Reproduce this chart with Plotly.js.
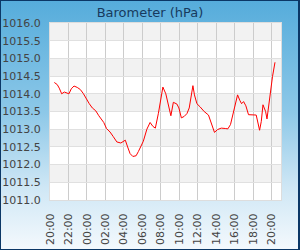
<!DOCTYPE html>
<html>
<head>
<meta charset="utf-8">
<script src="https://cdn.plot.ly/plotly-3.0.1.min.js"></script>
<style>
  html, body { margin:0; padding:0; }
  #wrap { position:relative; width:300px; height:250px;
          background: linear-gradient(to bottom, #55acdb 0%, #8dc8e8 45%, #cfe7f5 75%, #f4f9fd 100%); }
  #chart { position:absolute; left:0; top:0; width:300px; height:250px; }
  #frame { position:absolute; left:0; top:0; width:300px; height:250px; box-sizing:border-box;
           border:1px solid #0b3766; border-right-width:2px; pointer-events:none; }
</style>
</head>
<body>
<div id="wrap"><div id="chart"></div><div id="frame"></div></div>
<script>
const times = [
 "2024-01-01 20:28","2024-01-01 20:47","2024-01-01 21:00","2024-01-01 21:16","2024-01-01 21:33",
 "2024-01-01 21:49","2024-01-01 22:03","2024-01-01 22:18","2024-01-01 22:36","2024-01-01 22:57",
 "2024-01-01 23:17","2024-01-01 23:36","2024-01-01 23:54","2024-01-02 00:15","2024-01-02 00:35",
 "2024-01-02 00:57","2024-01-02 01:17","2024-01-02 01:33","2024-01-02 01:49","2024-01-02 02:07",
 "2024-01-02 02:30","2024-01-02 02:51","2024-01-02 03:14","2024-01-02 03:40","2024-01-02 03:56",
 "2024-01-02 04:09","2024-01-02 04:24","2024-01-02 04:40","2024-01-02 04:58","2024-01-02 05:19",
 "2024-01-02 05:34","2024-01-02 05:50","2024-01-02 06:06","2024-01-02 06:29","2024-01-02 06:50",
 "2024-01-02 07:08","2024-01-02 07:24","2024-01-02 07:44","2024-01-02 08:13","2024-01-02 08:32",
 "2024-01-02 08:49","2024-01-02 09:05","2024-01-02 09:21","2024-01-02 09:44","2024-01-02 09:57",
 "2024-01-02 10:13","2024-01-02 10:31","2024-01-02 10:49","2024-01-02 11:04","2024-01-02 11:28",
 "2024-01-02 11:38","2024-01-02 11:54","2024-01-02 12:15","2024-01-02 12:41","2024-01-02 13:09",
 "2024-01-02 13:25","2024-01-02 13:38","2024-01-02 13:48","2024-01-02 14:08","2024-01-02 14:32",
 "2024-01-02 14:58","2024-01-02 15:15","2024-01-02 15:32","2024-01-02 15:50","2024-01-02 16:03",
 "2024-01-02 16:18","2024-01-02 16:33","2024-01-02 16:44","2024-01-02 16:57","2024-01-02 17:12",
 "2024-01-02 17:29","2024-01-02 17:51","2024-01-02 18:19","2024-01-02 18:41","2024-01-02 18:52",
 "2024-01-02 19:03","2024-01-02 19:20","2024-01-02 19:29","2024-01-02 19:50","2024-01-02 20:05",
 "2024-01-02 20:21"
];
const pressure = [
 1014.32,1014.26,1014.16,1014.00,1014.05,
 1014.02,1014.00,1014.14,1014.22,1014.18,
 1014.12,1014.01,1013.87,1013.72,1013.60,
 1013.52,1013.38,1013.27,1013.19,1013.02,
 1012.92,1012.79,1012.64,1012.61,1012.65,
 1012.69,1012.50,1012.31,1012.23,1012.25,
 1012.37,1012.51,1012.66,1013.00,1013.19,
 1013.08,1013.03,1013.45,1014.19,1014.00,
 1013.69,1013.38,1013.76,1013.71,1013.60,
 1013.32,1013.36,1013.44,1013.60,1014.23,
 1013.97,1013.72,1013.63,1013.50,1013.40,
 1013.22,1013.06,1012.91,1012.99,1013.03,
 1013.02,1013.01,1013.13,1013.46,1013.74,
 1013.97,1013.81,1013.72,1013.78,1013.66,
 1013.41,1013.40,1013.40,1012.97,1013.22,
 1013.69,1013.50,1013.29,1014.02,1014.49,
 1014.89
];
const xRange = ["2024-01-01 20:00","2024-01-02 21:00"];
const yTicks = [1011.0,1011.5,1012.0,1012.5,1013.0,1013.5,1014.0,1014.5,1015.0,1015.5,1016.0];
const titleText = "Barometer (hPa)";

const shapes = [];
for (let i = 1; i < yTicks.length; i += 2) {
  shapes.push({type:'rect', xref:'paper', yref:'y', x0:0, x1:1, y0:yTicks[i], y1:yTicks[i+1],
               fillcolor:'#f2f2f2', line:{width:0}, layer:'below'});
}

const trace = {x: times, y: pressure, type:'scatter', mode:'lines',
               line:{color:'#ff0000', width:1}, hoverinfo:'skip'};

const layout = {
  width:300, height:250,
  paper_bgcolor:'rgba(0,0,0,0)', plot_bgcolor:'#ffffff',
  margin:{l:50, r:19, t:23, b:50},
  showlegend:false,
  title:{text:titleText, x:0.5, xanchor:'center', y:0.952, yanchor:'middle',
         font:{family:'DejaVu Sans', size:13, color:'#173a5e'}},
  xaxis:{type:'date', range:xRange, tickformat:'%H:%M', dtick:7200000,
         tick0:'2024-01-01 20:00', tickangle:-90,
         tickfont:{family:'DejaVu Sans', size:11, color:'#444444'},
         showgrid:true, gridcolor:'#cccccc', gridwidth:1,
         showline:true, linecolor:'#dddddd', mirror:true, zeroline:false,
         ticks:'outside', ticklen:8, tickcolor:'rgba(0,0,0,0)', fixedrange:true},
  yaxis:{range:[1011,1016], tickvals:yTicks, ticktext:yTicks.map(v=>v.toFixed(1)),
         tickfont:{family:'DejaVu Sans', size:11, color:'#444444'},
         showgrid:true, gridcolor:'#e0e0e0', gridwidth:1,
         showline:true, linecolor:'#dddddd', mirror:true, zeroline:false,
         ticks:'outside', ticklen:6, tickcolor:'rgba(0,0,0,0)', fixedrange:true},
  shapes: shapes
};

Plotly.newPlot('chart', [trace], layout, {staticPlot:true, displayModeBar:false});
</script>
</body>
</html>
